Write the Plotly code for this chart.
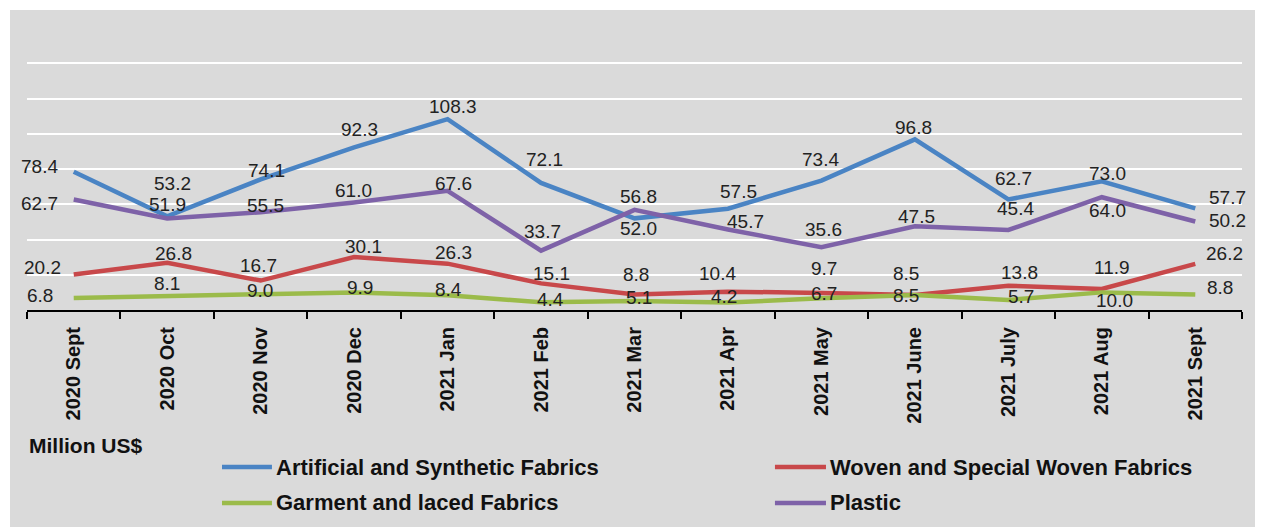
import plotly.graph_objects as go

months = ["2020 Sept", "2020 Oct", "2020 Nov", "2020 Dec", "2021 Jan", "2021 Feb", "2021 Mar",
          "2021 Apr", "2021 May", "2021 June", "2021 July", "2021 Aug", "2021 Sept"]

artificial = [78.4, 53.2, 74.1, 92.3, 108.3, 72.1, 52.0, 57.5, 73.4, 96.8, 62.7, 73.0, 57.7]
woven = [20.2, 26.8, 16.7, 30.1, 26.3, 15.1, 8.8, 10.4, 9.7, 8.5, 13.8, 11.9, 26.2]
garment = [6.8, 8.1, 9.0, 9.9, 8.4, 4.4, 5.1, 4.2, 6.7, 8.5, 5.7, 10.0, 8.8]
plastic = [62.7, 51.9, 55.5, 61.0, 67.6, 33.7, 56.8, 45.7, 35.6, 47.5, 45.4, 64.0, 50.2]

# label nudges in px (xshift, yshift) per point
art_off = [(-34, 5), (5, 33), (6, 9), (5, 18), (5, 13), (3, 23), (4, -10), (11, 17), (-1, 21), (-1, 12), (5, 21), (6, 8), (32, 11)]
wov_off = [(-31, 7), (6, 9), (-2, 15), (9, 10), (6, 11), (10, 10), (1, 20), (-10, 18), (3, 24), (-9, 22), (11, 13), (10, 22), (29, 10)]
gar_off = [(-34, 3), (0, 12), (-1, 4), (6, 5), (1, 6), (9, 3), (4, 4), (-4, 6), (3, 5), (-9, 0), (13, 3), (13, -8), (25, 7)]
pla_off = [(-34, -4), (0, 14), (5, 7), (-1, 12), (6, 7), (1, 19), (4, 13), (18, 8), (2, 18), (2, 10), (7, 21), (6, -13), (32, 1)]

FONT = "Liberation Sans, Arial, sans-serif"

# name, values, colour, label offsets, legend slot (line x0, line x1, y) in paper coords
series = [
    ("Artificial and Synthetic Fabrics", artificial, "#4A84C4", art_off, (0.1605, 0.2016, -0.557)),
    ("Woven and Special Woven Fabrics", woven, "#C8484A", wov_off, (0.6156, 0.6576, -0.557)),
    ("Garment and laced Fabrics", garment, "#9BBB4A", gar_off, (0.1605, 0.2016, -0.684)),
    ("Plastic", plastic, "#7E62A8", pla_off, (0.6156, 0.6576, -0.684)),
]

fig = go.Figure()
annotations = []
shapes = [
    # thin white edge at the top and left, as in the source image
    dict(type="rect", xref="paper", yref="paper", x0=-0.02, x1=1.02, y0=1.064, y1=1.08,
         fillcolor="white", line_width=0, layer="below"),
    dict(type="rect", xref="paper", yref="paper", x0=-0.02, x1=-0.0140, y0=-0.8, y1=1.08,
         fillcolor="white", line_width=0, layer="below"),
]
for name, vals, color, offs, (lx0, lx1, ly) in series:
    fig.add_trace(go.Scatter(x=months, y=vals, name=name, mode="lines",
                             line=dict(color=color, width=4.5), showlegend=False))
    for m, v, (dx, dy) in zip(months, vals, offs):
        annotations.append(dict(x=m, y=v, text=f"{v:.1f}", showarrow=False,
                                xshift=dx, yshift=dy, borderpad=0,
                                font=dict(family=FONT, size=19, color="#222222")))
    # legend entry
    shapes.append(dict(type="line", xref="paper", yref="paper", x0=lx0, x1=lx1, y0=ly, y1=ly,
                       line=dict(color=color, width=4.5)))
    annotations.append(dict(x=lx1 + 0.0025, y=ly, xref="paper", yref="paper", xanchor="left",
                            yanchor="middle", text=name, showarrow=False, borderpad=0,
                            font=dict(family=FONT, size=22, color="#111111", weight="bold")))

annotations.append(dict(x=0.0, y=-0.48, xref="paper", yref="paper", xanchor="left",
                        yanchor="middle", text="Million US$", showarrow=False,
                        font=dict(family=FONT, size=21, color="#111111", weight="bold")))

fig.update_layout(
    width=1255, height=519,
    margin=dict(l=19, r=21, t=20, b=217),
    paper_bgcolor="#dadada", plot_bgcolor="#dadada",
    font=dict(family=FONT),
    annotations=annotations,
    shapes=shapes,
    showlegend=False,
)

fig.update_xaxes(type="category", tickson="boundaries", range=[-0.5, 12.5], automargin=False,
                 showgrid=False, showline=True, linecolor="black", linewidth=2,
                 ticks="outside", ticklen=7, tickwidth=2, tickcolor="black", ticklabelstandoff=7,
                 tickangle=-90, tickfont=dict(family=FONT, size=20, color="#111111", weight="bold"))
fig.update_yaxes(range=[0, 160], dtick=20, showgrid=True, gridcolor="white", gridwidth=2,
                 showticklabels=False, zeroline=False, showline=False, automargin=False)

fig.write_html("out.html")
